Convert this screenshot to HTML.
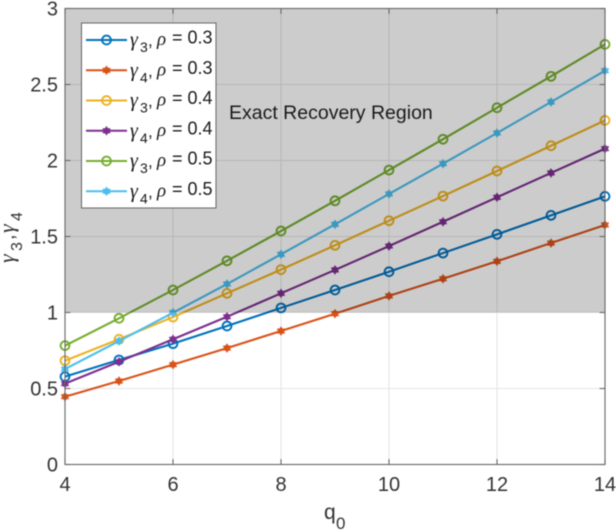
<!DOCTYPE html>
<html lang="en">
<head>
<meta charset="utf-8">
<title>Gamma vs q0</title>
<style>
html,body{margin:0;padding:0;background:#fff;width:616px;height:532px;overflow:hidden}
svg{display:block;filter:blur(0.45px)}
text{font-family:"Liberation Sans",sans-serif}
.sym{font-family:"Liberation Serif",serif;font-style:italic}
</style>
</head>
<body>
<svg id="chart" xmlns="http://www.w3.org/2000/svg" width="616" height="532" viewBox="0 0 616 532"></svg>
<script>
const qValues = [4, 5, 6, 7, 8, 9, 10, 11, 12, 13, 14];
const gamma3Rho03 = [0.578, 0.688, 0.795, 0.911, 1.03, 1.148, 1.268, 1.391, 1.514, 1.639, 1.764];
const gamma4Rho03 = [0.446, 0.549, 0.657, 0.766, 0.878, 0.992, 1.109, 1.222, 1.337, 1.457, 1.576];
const gamma3Rho04 = [0.683, 0.824, 0.97, 1.126, 1.282, 1.442, 1.604, 1.766, 1.931, 2.097, 2.264];
const gamma4Rho04 = [0.532, 0.676, 0.824, 0.972, 1.126, 1.28, 1.437, 1.597, 1.758, 1.918, 2.078];
const gamma3Rho05 = [0.782, 0.962, 1.148, 1.34, 1.536, 1.735, 1.937, 2.14, 2.347, 2.554, 2.764];
const gamma4Rho05 = [0.628, 0.812, 0.999, 1.187, 1.383, 1.58, 1.78, 1.979, 2.181, 2.385, 2.591];
const xTickValues = [4, 6, 8, 10, 12, 14];
const yTickValues = [0, 0.5, 1, 1.5, 2, 2.5, 3];
const regionThreshold = 1;
const seriesNames = ["gamma3-rho03", "gamma4-rho03", "gamma3-rho04", "gamma4-rho04", "gamma3-rho05", "gamma4-rho05"];
const seriesSubscripts = ["3", "4", "3", "4", "3", "4"];
const seriesRhoLabels = ["0.3", "0.3", "0.4", "0.4", "0.5", "0.5"];
const seriesValues = [gamma3Rho03, gamma4Rho03, gamma3Rho04, gamma4Rho04, gamma3Rho05, gamma4Rho05];

const colors = ["#0072bd", "#d95319", "#edb120", "#7e2f8e", "#77ac30", "#4dbeee"];
const hollow = [true, false, true, false, true, false];
const plot = {left: 65, right: 605, top: 8.5, bottom: 464.5};
const xMin = 4, xMax = 14, yMin = 0, yMax = 3;
const NS = "http://www.w3.org/2000/svg";
const svg = document.getElementById("chart");

function xScale(v) { return plot.left + (v - xMin) / (xMax - xMin) * (plot.right - plot.left); }
function yScale(v) { return plot.bottom - (v - yMin) / (yMax - yMin) * (plot.bottom - plot.top); }
function make(tag, attrs, parent) {
  const e = document.createElementNS(NS, tag);
  for (const k in attrs) e.setAttribute(k, attrs[k]);
  (parent || svg).appendChild(e);
  return e;
}
function drawMarker(parent, cx, cy, color, open) {
  if (open) {
    const c = make("circle", {cx: cx, cy: cy, r: 4.4, fill: "none", stroke: color, "stroke-width": 1.9}, parent);
    
    
  } else {
    const g = make("g", {}, parent);
    
    
    make("circle", {cx: cx, cy: cy, r: 3.3, fill: color}, g);
    [0, 60, 120].forEach(function (a) {
      const dx = 4.4 * Math.sin(a * Math.PI / 180), dy = 4.4 * Math.cos(a * Math.PI / 180);
      make("line", {x1: cx - dx, y1: cy - dy, x2: cx + dx, y2: cy + dy, stroke: color, "stroke-width": 1.4}, g);
    });
  }
}

/* background */
const bg = make("rect", {x: plot.left, y: plot.top, width: plot.right - plot.left, height: plot.bottom - plot.top, fill: "#fff"});



/* grid */
const grid = make("g", {stroke: "#e4e4e4", "stroke-width": 1});


xTickValues.forEach(function (v) {
  const l = make("line", {x1: xScale(v), x2: xScale(v), y1: plot.top, y2: plot.bottom}, grid);
  
  
});
yTickValues.forEach(function (v) {
  const l = make("line", {x1: plot.left, x2: plot.right, y1: yScale(v), y2: yScale(v)}, grid);
  
  
});

/* series */
seriesValues.forEach(function (vals, i) {
  const g = make("g", {});
  
  
  const pts = vals.map(function (v, j) { return xScale(qValues[j]) + "," + yScale(v); }).join(" ");
  const line = make("polyline", {points: pts, fill: "none", stroke: colors[i], "stroke-width": 2.1, "stroke-linejoin": "round"}, g);
  
  
  vals.forEach(function (v, j) {
    drawMarker(g, xScale(qValues[j]), yScale(v), colors[i], hollow[i]);
  });
});

/* shaded region above the threshold, semi-transparent over lines */
const region = make("rect", {x: plot.left, y: plot.top, width: plot.right - plot.left, height: yScale(regionThreshold) - plot.top, fill: "#000", "fill-opacity": 0.2});



/* axes box and ticks */
const axes = make("g", {stroke: "#666", "stroke-width": 1.1, fill: "none"});


make("rect", {x: plot.left, y: plot.top, width: plot.right - plot.left, height: plot.bottom - plot.top}, axes);
xTickValues.forEach(function (v) {
  const x = xScale(v);
  make("line", {x1: x, x2: x, y1: plot.bottom, y2: plot.bottom - 5.4}, axes);
  make("line", {x1: x, x2: x, y1: plot.top, y2: plot.top + 5.4}, axes);
  const t = make("text", {x: x, y: 491, "text-anchor": "middle", "font-size": 20, fill: "#333", stroke: "none"});
  
  
  t.textContent = String(v);
});
yTickValues.forEach(function (v) {
  const y = yScale(v);
  make("line", {x1: plot.left, x2: plot.left + 5.4, y1: y, y2: y}, axes);
  make("line", {x1: plot.right, x2: plot.right - 5.4, y1: y, y2: y}, axes);
  const t = make("text", {x: 58, y: y + 7, "text-anchor": "end", "font-size": 20, fill: "#333", stroke: "none"});
  
  
  t.textContent = String(v);
});

/* annotation */
const note = make("text", {x: 229, y: 119, "font-size": 19.5, fill: "#1a1a1a"});


note.textContent = "Exact Recovery Region";

/* axis titles */
const xTitle = make("text", {x: 324, y: 519, "font-size": 21, fill: "#333"});


xTitle.textContent = "q";
const xSub = make("tspan", {x: 336, y: 529, "font-size": 17}, xTitle);
xSub.textContent = "0";

const yTitle = make("text", {transform: "translate(14,263) rotate(-90)", "font-size": 21, fill: "#333"});


const yParts = [["γ", "sym", 0, 0, 22], ["3", "", 12, 8, 16], [",", "", 23, 0, 20], ["γ", "sym", 30, 0, 22], ["4", "", 42, 8, 16]];
yParts.forEach(function (p) {
  const s = make("tspan", {x: p[2], y: p[3], "font-size": p[4]}, yTitle);
  if (p[1]) s.setAttribute("class", p[1]);
  s.textContent = p[0];
});

/* legend */
const legend = make("g", {});


make("rect", {x: 81.5, y: 23, width: 134.5, height: 185, fill: "#fff", stroke: "#666", "stroke-width": 1}, legend);
seriesNames.forEach(function (name, i) {
  const y = 40 + i * 30.25;
  const g = make("g", {}, legend);
  
  
  make("line", {x1: 86, x2: 127, y1: y, y2: y, stroke: colors[i], "stroke-width": 2.1}, g);
  drawMarker(g, 106.5, y, colors[i], hollow[i]);
  const t = make("text", {x: 130, y: y + 3.5, "font-size": 18, fill: "#1a1a1a"}, g);
  const parts = [["γ", "sym", 130, y + 6, 20], [seriesSubscripts[i], "", 140, y + 12, 14], [",", "", 148, y + 6, 17], ["ρ", "sym", 157, y + 5, 19], ["= " + seriesRhoLabels[i], "", 172, y + 3.5, 18]];
  parts.forEach(function (p) {
    const s = make("tspan", {x: p[2], y: p[3], "font-size": p[4]}, t);
    if (p[1]) s.setAttribute("class", p[1]);
    s.textContent = p[0];
  });
});
</script>
</body>
</html>
